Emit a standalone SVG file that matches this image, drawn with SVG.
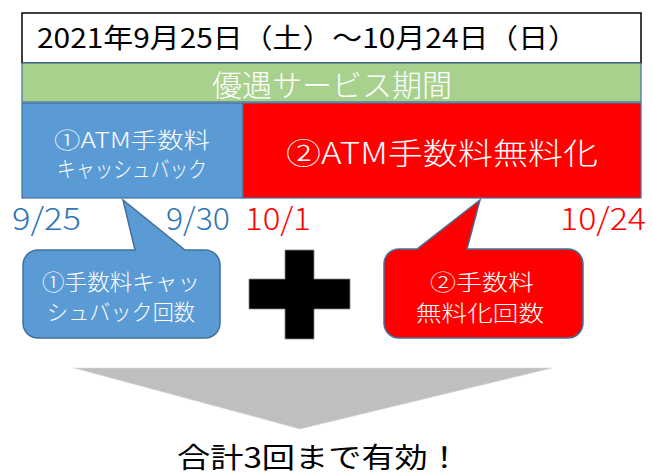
<svg xmlns="http://www.w3.org/2000/svg" width="652" height="476" viewBox="0 0 652 476">
<style>
text{font-family:"Noto Sans CJK JP","Noto Sans",sans-serif;}
.w{fill:#fff;font-weight:300;}
.bl{fill:#2E75B6;font-weight:300;}
.rd{fill:#FF0000;font-weight:300;}
.box{stroke:#41719C;stroke-width:1.2;}
</style>
<rect width="652" height="476" fill="#fff"/>
<g id="period-title">
<rect x="22" y="13" width="619" height="50" fill="#fff" stroke="#000" stroke-width="1.5"/>
<text x="37" y="48" font-size="27" fill="#000" textLength="541" lengthAdjust="spacingAndGlyphs">2021年9月25日（土）～10月24日（日）</text>
</g>
<g id="service-period">
<rect x="22" y="63" width="619" height="39" fill="#A9D18E" class="box"/>
<text x="332" y="96" font-size="30" class="w" text-anchor="middle" textLength="240" lengthAdjust="spacingAndGlyphs">優遇サービス期間</text>
</g>
<g id="cashback">
<rect x="22" y="103" width="221" height="95" fill="#5B9BD5" class="box"/>
<text x="132" y="148" font-size="22" class="w" text-anchor="middle" textLength="156" lengthAdjust="spacingAndGlyphs">①ATM手数料</text>
<text x="132" y="177" font-size="22" class="w" text-anchor="middle" textLength="150" lengthAdjust="spacingAndGlyphs">キャッシュバック</text>
</g>
<g id="free">
<rect x="243" y="103" width="398" height="95" fill="#FF0000" class="box"/>
<text x="442" y="164" font-size="30" class="w" text-anchor="middle" textLength="312" lengthAdjust="spacingAndGlyphs">②ATM手数料無料化</text>
</g>
<g id="dates" font-size="31">
<text x="12" y="230" class="bl" textLength="69" lengthAdjust="spacingAndGlyphs">9/25</text>
<text x="166" y="230" class="bl" textLength="64" lengthAdjust="spacingAndGlyphs">9/30</text>
<text x="245" y="230" class="rd" textLength="66" lengthAdjust="spacingAndGlyphs">10/1</text>
<text x="560" y="230" class="rd" textLength="86" lengthAdjust="spacingAndGlyphs">10/24</text>
</g>
<g id="cashback-count">
<path d="M38,250 L135,250 L123,200 L185,250 L205,250 A15,15 0 0 1 220,265 L220,323 A15,15 0 0 1 205,338 L38,338 A15,15 0 0 1 23,323 L23,265 A15,15 0 0 1 38,250 Z" fill="#5B9BD5" stroke="#41719C" stroke-width="1.5"/>
<text x="121" y="290" font-size="22" class="w" text-anchor="middle" textLength="158" lengthAdjust="spacingAndGlyphs">①手数料キャッ</text>
<text x="121" y="320" font-size="22" class="w" text-anchor="middle" textLength="148" lengthAdjust="spacingAndGlyphs">シュバック回数</text>
</g>
<g id="plus">
<path d="M285,250 H314 V279 H350 V309 H314 V339 H285 V309 H249 V279 H285 Z" fill="#000" stroke="#888" stroke-width="0.8"/>
</g>
<g id="free-count">
<path d="M399,249 L417,249 L480,200 L467,249 L568,249 A15,15 0 0 1 583,264 L583,323 A15,15 0 0 1 568,338 L399,338 A15,15 0 0 1 384,323 L384,264 A15,15 0 0 1 399,249 Z" fill="#FF0000" stroke="#41719C" stroke-width="1.5"/>
<text x="482" y="290" font-size="22" class="w" text-anchor="middle" textLength="104" lengthAdjust="spacingAndGlyphs">②手数料</text>
<text x="480" y="321" font-size="22" class="w" text-anchor="middle" textLength="128" lengthAdjust="spacingAndGlyphs">無料化回数</text>
</g>
<g id="connectors">
<path d="M74,368 L552,368 L300,429 Z" fill="#BFBFBF" stroke="#D9D9D9" stroke-width="0.6"/>
</g>
<g id="result">
<text x="177" y="468" font-size="28" fill="#000" textLength="284" lengthAdjust="spacingAndGlyphs">合計3回まで有効！</text>
</g>
</svg>
